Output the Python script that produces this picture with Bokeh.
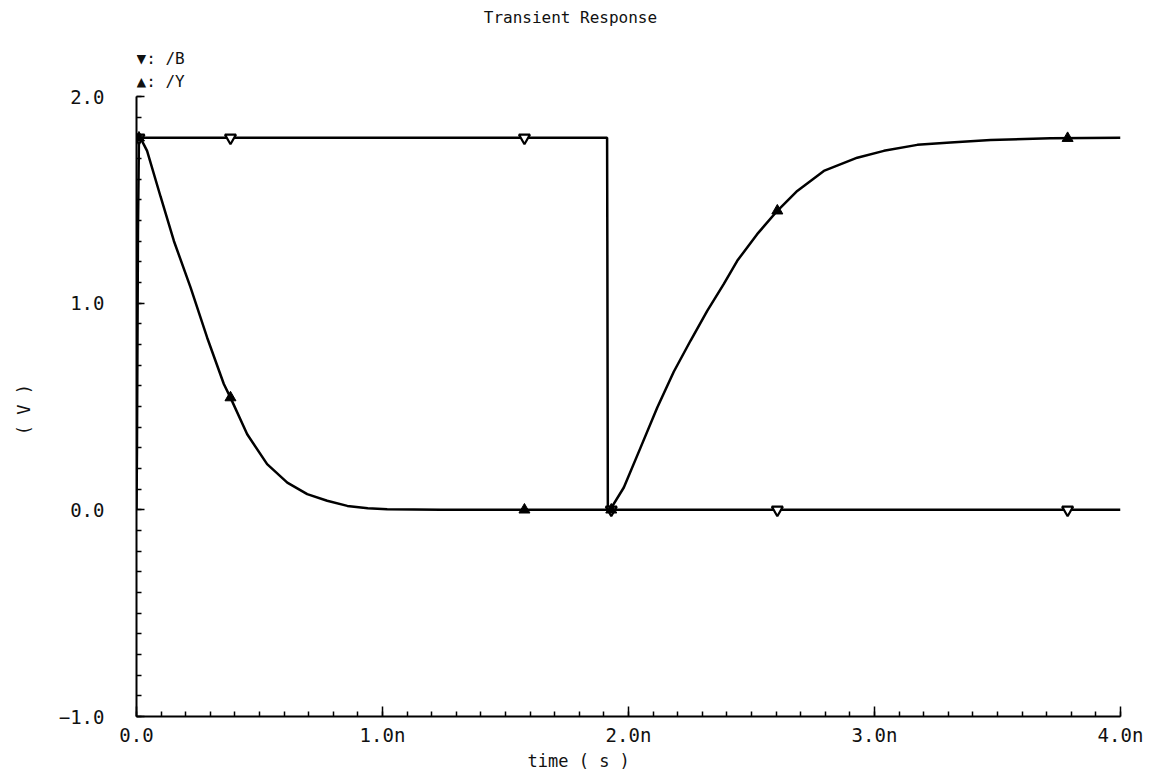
from bokeh.plotting import figure
from bokeh.models import Range1d, FixedTicker, Title, Label
from bokeh.embed import file_html
from bokeh.resources import INLINE

# ---- data (time in ns, voltage in V) ----
b_time = [0.0, 0.002, 0.006, 0.010, 1.913, 1.914, 1.916, 4.0]
b_volt = [0.0, 0.30, 1.35, 1.80, 1.80, 1.30, 0.0, 0.0]

y_time = [0.0, 0.016, 0.043, 0.098, 0.152, 0.220, 0.287, 0.355, 0.382, 0.450,
          0.531, 0.613, 0.694, 0.775, 0.857, 0.940, 1.019, 1.236, 1.600, 1.915,
          1.927, 1.981, 2.049, 2.117, 2.184, 2.252, 2.320, 2.387, 2.442, 2.523,
          2.605, 2.686, 2.794, 2.930, 3.038, 3.174, 3.309, 3.472, 3.715, 4.0]
y_volt = [1.80, 1.80, 1.737, 1.515, 1.301, 1.075, 0.834, 0.609, 0.543, 0.366,
          0.221, 0.132, 0.076, 0.044, 0.019, 0.008, 0.003, 0.0, 0.0, 0.0,
          0.003, 0.108, 0.301, 0.495, 0.668, 0.818, 0.963, 1.092, 1.205, 1.334,
          1.447, 1.543, 1.640, 1.704, 1.737, 1.766, 1.777, 1.790, 1.798, 1.80]

b_mark_time = [0.010, 0.382, 1.577, 1.930, 2.605, 3.785]
b_mark_volt = [1.80, 1.80, 1.80, 0.0, 0.0, 0.0]
y_mark_time = [0.010, 0.382, 1.577, 1.930, 2.605, 3.785]
y_mark_volt = [1.80, 0.543, 0.0, 0.0, 1.447, 1.798]

x_ticks = [0, 1, 2, 3, 4]
x_tick_labels = ["0.0", "1.0n", "2.0n", "3.0n", "4.0n"]
y_ticks = [-1, 0, 1, 2]
y_tick_labels = ["\u22121.0", "0.0", "1.0", "2.0"]

title_text = "Transient Response"
x_title = "time ( s )"
y_title = "( V )"
legend_b = "\u25BC: /B"
legend_y = "\u25B2: /Y"

FONT = "DejaVu Sans Mono"
TXT = "#111111"

# frame spans from canvas top (y=0 px) to the x axis (716 px); the axes are
# bounded to -1..2 V so the region above 2 V holds the title and legend.
Y_TOP = 2 + 96 / ((716 - 96) / 3)

p = figure(width=1159, height=771, x_range=Range1d(0, 4), y_range=Range1d(-1, Y_TOP),
           toolbar_location=None, output_backend="svg",
           min_border_left=136, min_border_right=39, min_border_top=0,
           min_border_bottom=55)
p.outline_line_color = None
p.background_fill_color = "white"
p.border_fill_color = "white"
p.xgrid.visible = False
p.ygrid.visible = False
p.title.visible = False

x_minor = [i * 0.1 for i in range(0, 41)]
y_minor = [-1 + i * 0.1 for i in range(0, 31)]

xa = p.xaxis[0]
xa.ticker = FixedTicker(ticks=x_ticks, minor_ticks=x_minor)
xa.major_label_overrides = dict(zip(x_ticks, x_tick_labels))
xa.bounds = (0, 4)
ya = p.yaxis[0]
ya.ticker = FixedTicker(ticks=y_ticks, minor_ticks=y_minor)
ya.major_label_overrides = dict(zip(y_ticks, y_tick_labels))
ya.bounds = (-1, 2)

for ax, maj in ((xa, 10), (ya, 8)):
    ax.axis_line_color = "black"
    ax.axis_line_width = 2
    ax.major_tick_line_color = "black"
    ax.minor_tick_line_color = "black"
    ax.major_tick_line_width = 1.5
    ax.minor_tick_line_width = 1.5
    ax.major_tick_in = maj
    ax.major_tick_out = 0
    ax.minor_tick_in = 5
    ax.minor_tick_out = 0
    ax.major_label_text_font = FONT
    ax.major_label_text_font_size = "19px"
    ax.major_label_text_color = TXT
xa.major_label_standoff = 7
ya.major_label_standoff = 32

# the axis label is centred on the whole frame; padding with no-break spaces
# moves the visible text down to the middle of the -1..2 V span
ya.axis_label = y_title + "\u00a0" * 10
ya.axis_label_text_font = FONT
ya.axis_label_text_font_size = "17px"
ya.axis_label_text_font_style = "normal"
ya.axis_label_text_color = TXT
ya.axis_label_standoff = 22

# curves
p.line(b_time, b_volt, line_color="black", line_width=2.5)
p.line(y_time, y_volt, line_color="black", line_width=2.5)
p.scatter(b_mark_time, b_mark_volt, marker="inverted_triangle", size=11,
          fill_color="white", line_color="black", line_width=2.2)
p.scatter(y_mark_time, y_mark_volt, marker="triangle", size=11,
          fill_color="black", line_color="black", line_width=1)

# title and legend text in the space above 2 V
def mk_label(text, x, y, size, align):
    return Label(x=x, y=y, text=text, text_align=align, text_baseline="middle",
                 text_font=FONT, text_font_size=size, text_color=TXT)

p.add_layout(mk_label(title_text, 1.764, 2.381, "16px", "center"))
p.add_layout(mk_label(legend_b, 0.0, 2.182, "16px", "left"))
p.add_layout(mk_label(legend_y, 0.0, 2.075, "16px", "left"))

# x axis title below the axis, shifted left like the reference
p.add_layout(Title(text=x_title, align="left", offset=391, text_font=FONT,
                   text_font_size="17px", text_font_style="normal",
                   text_color=TXT, standoff=0), "below")

open("out.html", "w").write(file_html(p, INLINE))
